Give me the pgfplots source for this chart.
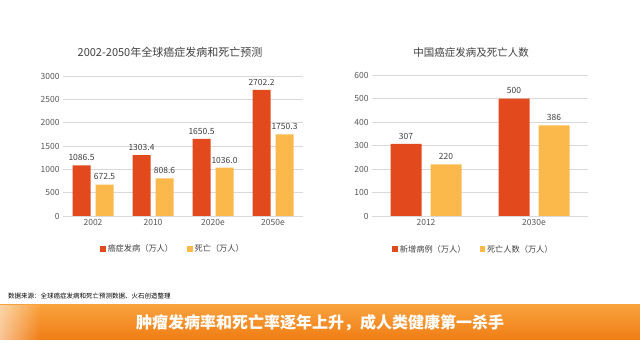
\documentclass[border=0pt]{standalone}
\usepackage{pgfplots}
\pgfplotsset{compat=1.18}
\usepackage{fontspec}
\setmainfont{Noto Sans CJK SC}
\usetikzlibrary{fadings}
\definecolor{cred}{HTML}{E2491C}
\definecolor{cyel}{HTML}{FBB94B}
\definecolor{ctxt}{HTML}{404040}
\definecolor{ctick}{HTML}{595959}
\definecolor{cgrid}{HTML}{D9D9D9}
\definecolor{bantop}{HTML}{F9A23E}
\definecolor{banbot}{HTML}{F07D14}
\pgfplotsset{
  sq/.style={fill=#1, draw=none,
    legend image code/.code={\fill[#1] (0bp,-2.8bp) rectangle (5.5bp,2.8bp);}},
  mybars/.style={
    scale only axis,
    ymin=0,
    ymajorgrids,
    grid style={cgrid, line width=0.6bp},
    axis x line*=bottom,
    axis y line*=left,
    x axis line style={cgrid, line width=0.8bp},
    y axis line style={draw=none},
    major tick length=0pt,
    tick label style={font=\fontsize{8.5bp}{10bp}\selectfont, text=ctick},
    /pgf/number format/assume math mode=true,
    /pgf/number format/1000 sep={},
    xtick=data,
    nodes near coords,
    nodes near coords style={font=\fontsize{8.5bp}{10bp}\selectfont, text=ctxt, yshift=1bp},
    legend columns=2,
    legend style={draw=none, fill=none, font=\fontsize{8.2bp}{10bp}\selectfont, text=ctxt,
      /tikz/every even column/.append style={column sep=12bp}},
    clip=false,
  }
}
\begin{document}
\begin{tikzpicture}
\fill[white] (0bp,0bp) rectangle (640bp,357bp);
% left chart
\begin{axis}[mybars,
  at={(63bp,141bp)}, anchor=south west,
  width=240bp, height=140bp,
  ybar=5bp, bar width=18bp,
  xmin=-0.5, xmax=3.5, ymax=3000,
  ytick={0,500,1000,1500,2000,2500,3000},
  xticklabels={2002,2010,2020e,2050e},
  nodes near coords={\pgfmathprintnumber[fixed,fixed zerofill,precision=1]{\pgfplotspointmeta}},
  legend style={at={(0.458,-0.236)}, anchor=center},
]
\addplot[sq=cred] coordinates {(0,1086.5) (1,1303.4) (2,1650.5) (3,2702.2)};
\addplot[sq=cyel] coordinates {(0,672.5) (1,808.6) (2,1036.0) (3,1750.3)};
\legend{癌症发病（万人）,死亡（万人）}
\end{axis}
% right chart
\begin{axis}[mybars,
  at={(372bp,141bp)}, anchor=south west,
  width=216bp, height=141bp,
  ybar=9bp, bar width=31bp,
  xmin=-0.5, xmax=1.5, ymax=600,
  ytick={0,100,200,300,400,500,600},
  xticklabels={2012,2030e},
  legend style={at={(0.47,-0.236)}, anchor=center},
]
\addplot[sq=cred] coordinates {(0,307) (1,500)};
\addplot[sq=cyel] coordinates {(0,220) (1,386)};
\legend{新增病例（万人）,死亡人数（万人）}
\end{axis}
% titles
\node[text=ctxt, font=\fontsize{11bp}{13bp}\selectfont] at (170bp,305bp) {2002-2050年全球癌症发病和死亡预测};
\node[text=ctxt, font=\fontsize{10.5bp}{13bp}\selectfont] at (471bp,305bp) {中国癌症发病及死亡人数};
% source
\node[anchor=west, text=black, font=\fontsize{6.5bp}{8bp}\selectfont, inner sep=0pt] at (8bp,61bp) {数据来源：全球癌症发病和死亡预测数据、火石创造整理};
% banner
\shade[top color=bantop, bottom color=banbot] (0bp,17bp) rectangle (640bp,52bp);
\fill[white, opacity=0.55, path fading=east] (0bp,17bp) rectangle (40bp,52bp);
\node[text=white, font=\fontsize{16bp}{18bp}\selectfont\bfseries] at (320bp,34.5bp) {肿瘤发病率和死亡率逐年上升，成人类健康第一杀手};
\end{tikzpicture}
\end{document}
